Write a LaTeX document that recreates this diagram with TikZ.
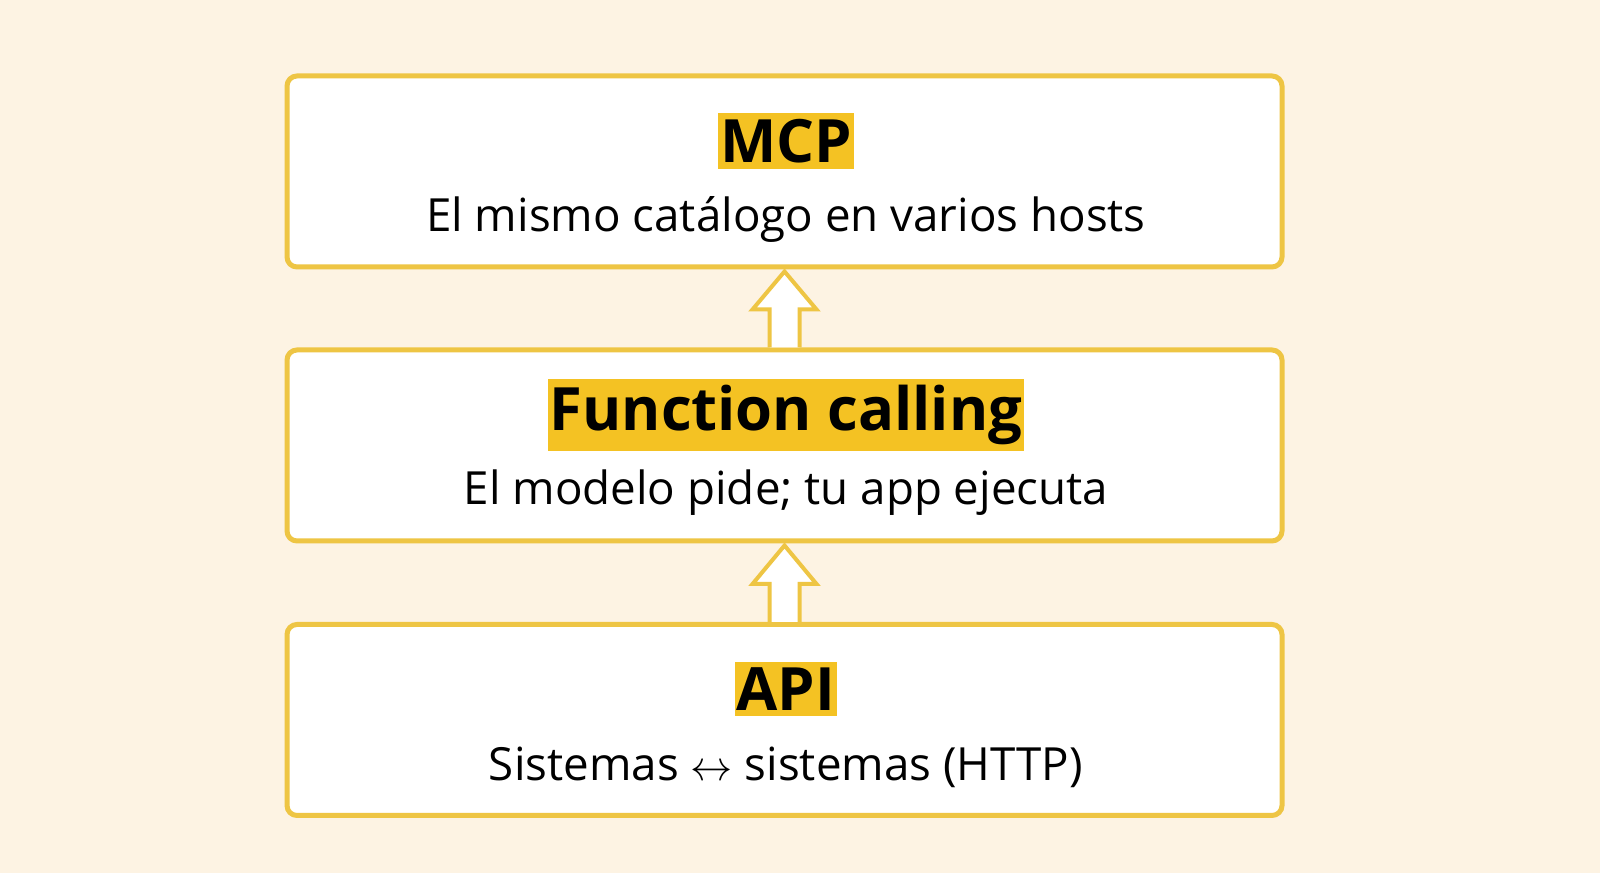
\documentclass[tikz,border=0pt]{standalone}
\usepackage{fontspec}
\setmainfont{Open Sans}
\usetikzlibrary{positioning}

\definecolor{bgcream}{HTML}{FDF3E3}
\definecolor{boxline}{HTML}{EEC544}
\definecolor{hilite}{HTML}{F4C223}

\tikzset{
  layer/.style = {draw = boxline, line width = 0.05cm, fill = white, rounded corners = 0.1cm,
                  minimum width = 9.95cm, minimum height = 1.91cm},
  title/.style = {fill = hilite, inner xsep = 0.02cm, inner ysep = 0.06cm,
                  font = \fontsize{17}{20}\selectfont\bfseries},
  subtitle/.style = {font = \fontsize{13}{16}\selectfont},
  uparrow/.style = {draw = boxline, line width = 0.04cm, fill = white, line join = miter}
}

\begin{document}
\begin{tikzpicture}
   \fill[bgcream] (0,0) rectangle (16,8.73);
   \useasboundingbox (0,0) rectangle (16,8.73);

   % the three layers
   \node[layer] (mcp) at (7.845,7.015) {};
   \node[layer] (fc) at (7.845,4.275) {};
   \node[layer] (api) at (7.845,1.53) {};

   \node[title] (mcpT) at (7.86,7.32) {MCP};
   \node[subtitle] (mcpS) at (7.86,6.53) {El mismo catálogo en varios hosts};
   \node[title] (fcT) at (7.86,4.58) {Function calling};
   \node[subtitle] (fcS) at (7.86,3.80) {El modelo pide; tu app ejecuta};
   \node[title] (apiT) at (7.86,1.84) {API};
   \node[subtitle] (apiS) at (7.86,1.06) {Sistemas \(\leftrightarrow\) sistemas (HTTP)};

   % hollow arrows between layers
   \foreach \lo/\hi in {fc/mcp, api/fc}{
      \draw[uparrow] ([xshift=-0.15cm]\lo.north) -- ++(0,0.38) -- ++(-0.17,0)
         -- ([yshift=-0.02cm]\hi.south) -- ([xshift=0.32cm,yshift=0.38cm]\lo.north)
         -- ++(-0.17,0) -- ([xshift=0.15cm]\lo.north);
   }
\end{tikzpicture}
\end{document}
